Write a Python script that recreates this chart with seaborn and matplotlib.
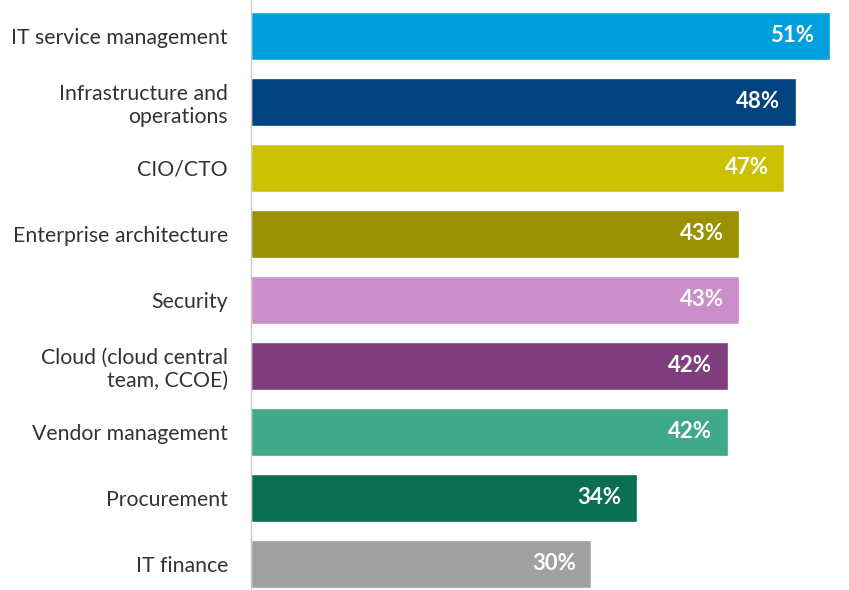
import matplotlib
matplotlib.use("Agg")
import matplotlib.pyplot as plt
import pandas as pd
import seaborn as sns

categories = [
    "IT service management",
    "Infrastructure and\noperations",
    "CIO/CTO",
    "Enterprise architecture",
    "Security",
    "Cloud (cloud central\nteam, CCOE)",
    "Vendor management",
    "Procurement",
    "IT finance",
]
values = [51, 48, 47, 43, 43, 42, 42, 34, 30]
colors = [
    "#00A0DF", "#00437F", "#CCC100", "#999100", "#CC8ECB",
    "#7F3E7D", "#3FA98A", "#0B6E50", "#A0A0A0",
]

df = pd.DataFrame({"category": categories, "value": values})

sns.set_theme(style="white")
plt.rcParams["font.family"] = ["Lato", "DejaVu Sans"]

fig = plt.figure(figsize=(8.49, 5.90), dpi=100)
ax = fig.add_axes([251 / 849, 0, 1 - 251 / 849, 1])

sns.barplot(
    data=df, x="value", y="category", hue="category",
    palette=colors, legend=False, width=48 / 66, saturation=1, ax=ax,
)

ax.set_xlim(0, 52.7)
ax.set_ylim(len(categories) - 1 + (590 - 36 - 66 * 8) / 66, -36 / 66)
ax.set_xlabel("")
ax.set_ylabel("")
ax.set_xticks([])
ax.tick_params(axis="y", length=0, pad=16.5, labelsize=15.3, labelcolor="#333333")

for side in ["top", "right", "bottom"]:
    ax.spines[side].set_visible(False)
ax.spines["left"].set_color("#C8C8C8")
ax.spines["left"].set_linewidth(1)

for i, v in enumerate(values):
    ax.annotate(
        f"{v}%", xy=(v, i), xytext=(-11, 0), textcoords="offset points",
        ha="right", va="center", color="white", fontsize=16, fontweight="bold",
    )

fig.savefig("out.png", dpi=100)
